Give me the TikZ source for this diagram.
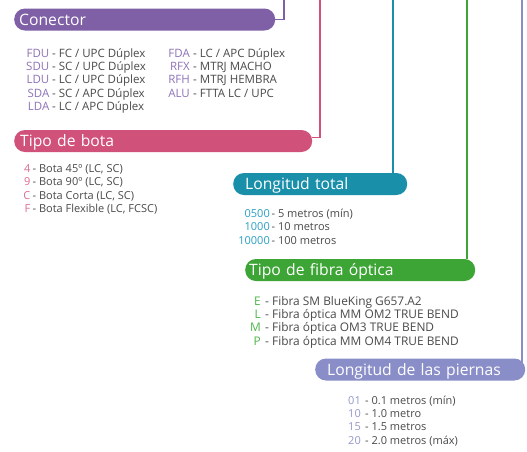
\documentclass[tikz,border=0pt]{standalone}
\usepackage{fontspec}
\setmainfont{Open Sans}
\usetikzlibrary{backgrounds}
\definecolor{cpurple}{HTML}{7F5FA6}
\definecolor{cpurplet}{HTML}{8E73B8}
\definecolor{cpink}{HTML}{D0527B}
\definecolor{cpinkt}{HTML}{DC6D93}
\definecolor{cteal}{HTML}{1A8FAA}
\definecolor{ctealt}{HTML}{2A9FC4}
\definecolor{cgreen}{HTML}{3DA535}
\definecolor{cgreent}{HTML}{4CB848}
\definecolor{clav}{HTML}{8A8EC8}
\definecolor{clavt}{HTML}{9498CE}
\definecolor{ctext}{HTML}{4A4A4A}
\tikzset{
  pill/.style={rounded corners=10.8pt, minimum height=22pt, inner ysep=0pt,
    text height=11.5pt, text depth=0pt, align=left, text=white,
    font=\fontsize{15.7}{18}\selectfont, anchor=west},
  code/.style={anchor=base east, inner sep=0pt, font=\fontsize{11}{13}\selectfont},
  desc/.style={anchor=base west, inner sep=0pt, text=ctext, font=\fontsize{11}{13}\selectfont},
  bigger/.style={font=\fontsize{11.5}{13}\selectfont},
  link/.style={line width=1.6pt}
}
\begin{document}
\begin{tikzpicture}[x=1pt,y=-1pt]
\path[use as bounding box] (0,0) rectangle (527,451);

% pills
\node[pill, fill=cpurple, inner xsep=5pt, text width=251pt] (con) at (14,19.5) {Conector};
\node[pill, fill=cpink, inner xsep=6pt, text width=286pt] (bota) at (14,141) {Tipo de bota};
\node[pill, fill=cteal, inner xsep=12pt, text width=150pt] (total) at (233,184) {Longitud total};
\node[pill, fill=cgreen, inner xsep=4pt, text width=222pt] (fibra) at (245,270) {Tipo de fibra óptica};
\node[pill, fill=clav, inner xsep=12pt, text width=186pt] (pier) at (315,369.5) {Longitud de las piernas};

% connectors
\coordinate (conTop) at (284,0);
\coordinate (botaTop) at (320,0);
\coordinate (totalTop) at (393,0);
\coordinate (fibraTop) at (467,0);
\coordinate (pierTop) at (522,0);
\begin{scope}[on background layer]
\fill[white] (0,0) rectangle (527,451);
\draw[link, cpurple] (con.east) -| (conTop);
\draw[link, cpink] (bota.east) ++(0,-3.5) -| (botaTop);
\draw[link, cteal] (totalTop |- total.north) -- (totalTop);
\draw[link, cgreen] (fibraTop |- fibra.north) -- (fibraTop);
\draw[link, clav] (pierTop |- pier.center) -- (pierTop);
\end{scope}

% Conector list
\foreach \c/\d [count=\i] in {FDU/{FC / UPC Dúplex}, SDU/{SC / UPC Dúplex}, LDU/{LC / UPC Dúplex}, SDA/{SC / APC Dúplex}, LDA/{LC / APC Dúplex}}{
  \node[code, bigger, text=cpurplet] (ca\i) at (49.5,{57.3+13.3*(\i-1)}) {\c};
  \node[desc, bigger] (da\i) at (52,{57.3+13.3*(\i-1)}) {- \d};
}
\foreach \c/\d [count=\i] in {FDA/{LC / APC Dúplex}, RFX/{MTRJ MACHO}, RFH/{MTRJ HEMBRA}, ALU/{FTTA LC / UPC}}{
  \node[code, bigger, text=cpurplet] (cb\i) at (190,{57.3+13.3*(\i-1)}) {\c};
  \node[desc, bigger] (db\i) at (193,{57.3+13.3*(\i-1)}) {- \d};
}
% Bota list
\foreach \c/\d [count=\i] in {4/{Bota 45º (LC, SC)}, 9/{Bota 90º (LC, SC)}, C/{Bota Corta (LC, SC)}, F/{Bota Flexible (LC, FCSC)}}{
  \node[code, text=cpinkt] (cc\i) at (30.5,{172+13.6*(\i-1)}) {\c};
  \node[desc] (dc\i) at (32.5,{172+13.6*(\i-1)}) {- \d};
}
% Longitud total list
\foreach \c/\d [count=\i] in {0500/{5 metros (mín)}, 1000/{10 metros}, 10000/{100 metros}}{
  \node[code, text=ctealt] (cd\i) at (270,{217.3+13.5*(\i-1)}) {\c};
  \node[desc] (dd\i) at (271.5,{217.3+13.5*(\i-1)}) {- \d};
}
% Fibra list
\foreach \c/\d [count=\i] in {E/{Fibra SM BlueKing G657.A2}, L/{Fibra óptica MM OM2 TRUE BEND}, M/{Fibra óptica OM3 TRUE BEND}, P/{Fibra óptica MM OM4 TRUE BEND}}{
  \node[code, text=cgreent, font=\fontsize{11.9}{13}\selectfont] (ce\i) at (261,{305+13.35*(\i-1)}) {\c};
  \node[desc, font=\fontsize{11.9}{13}\selectfont] (de\i) at (265,{305+13.35*(\i-1)}) {- \d};
}
% Piernas list
\foreach \c/\d [count=\i] in {01/{0.1 metros (mín)}, 10/{1.0 metro}, 15/{1.5 metros}, 20/{2.0 metros (máx)}}{
  \node[code, text=clavt] (cf\i) at (361,{404+13.35*(\i-1)}) {\c};
  \node[desc] (df\i) at (365,{404+13.35*(\i-1)}) {- \d};
}
\end{tikzpicture}
\end{document}
